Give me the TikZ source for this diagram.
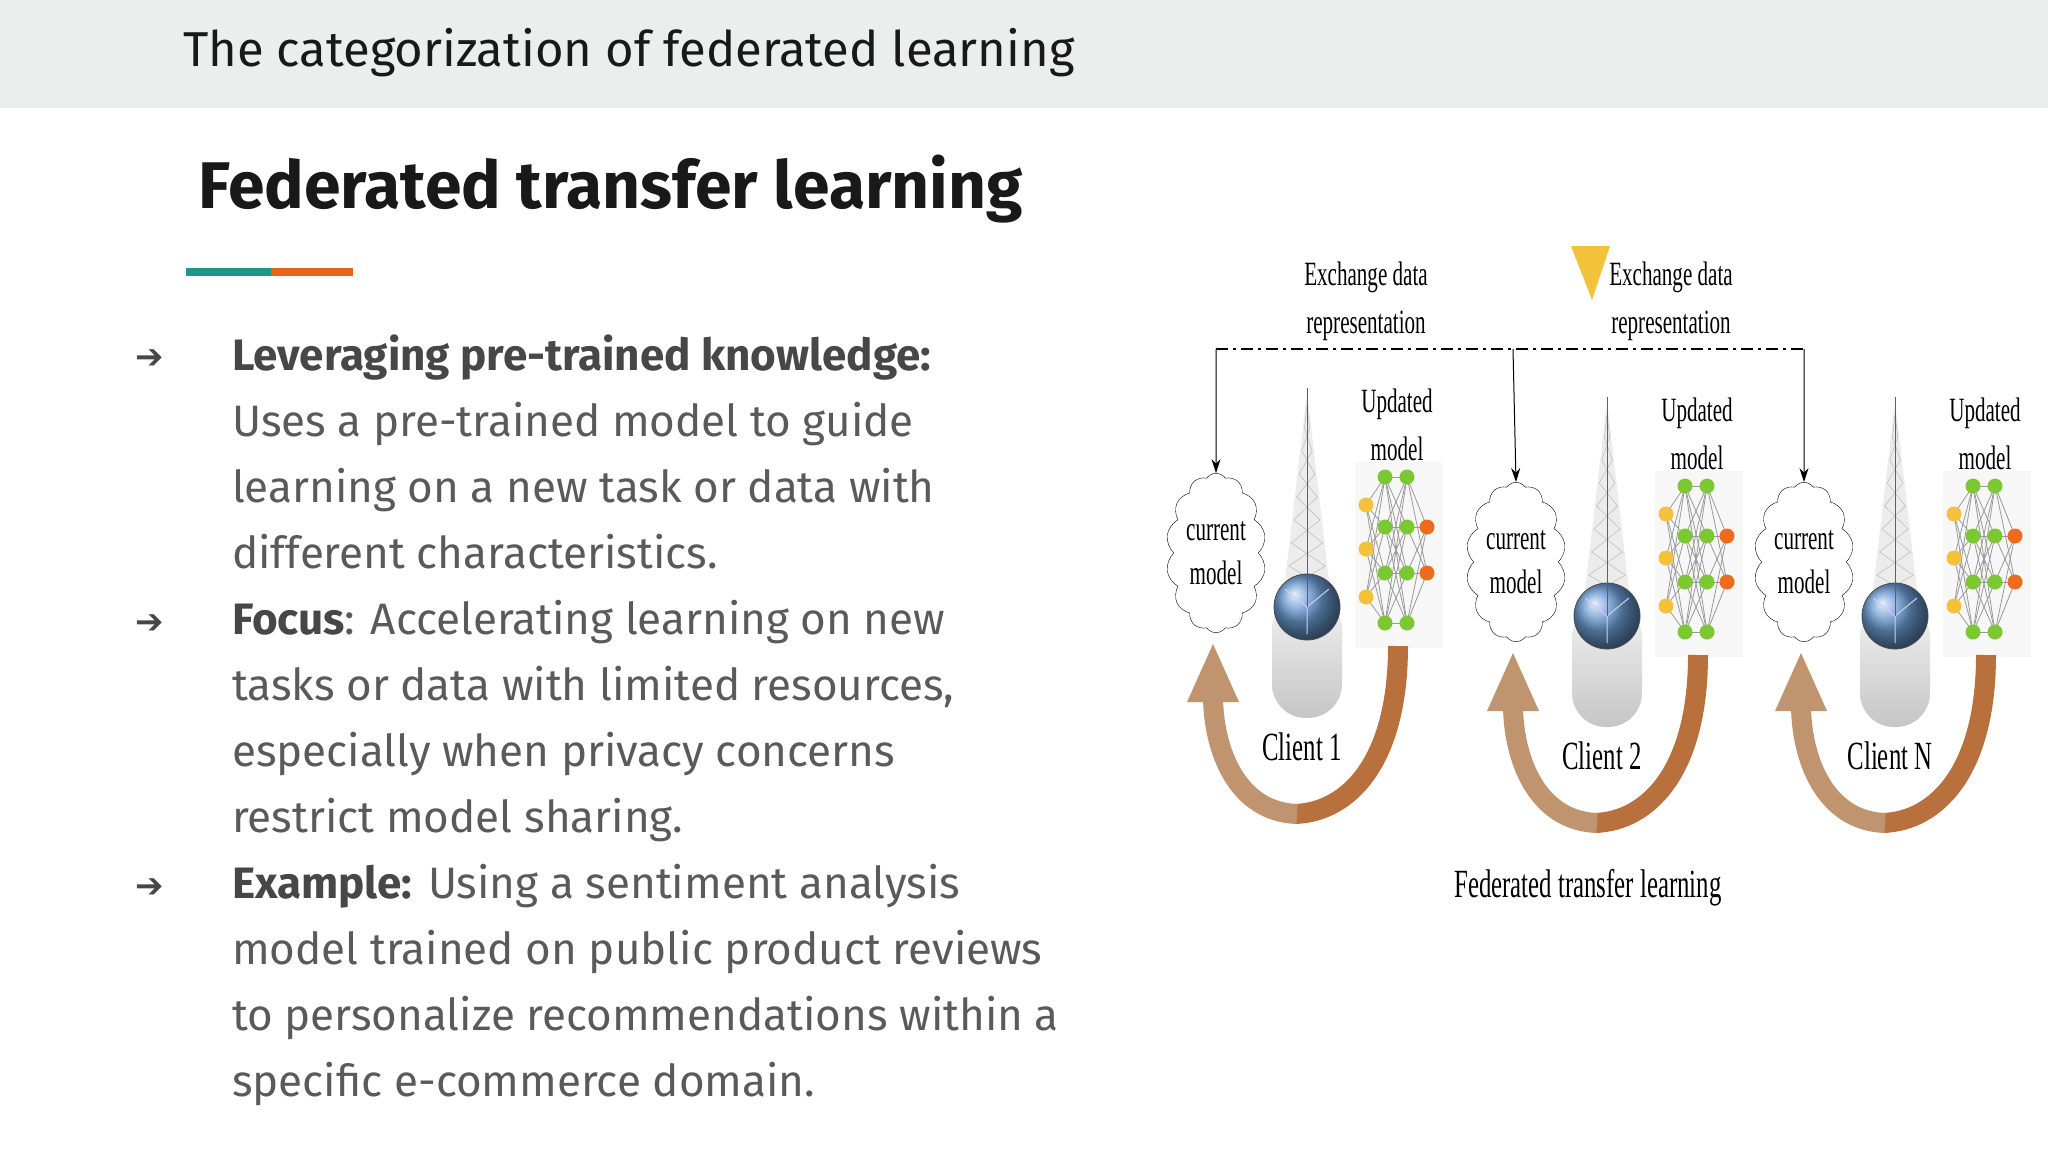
\documentclass[tikz,border=0pt]{standalone}
\usepackage{fontspec}
\setmainfont{Fira Sans}
\newfontfamily\dejavu{DejaVu Sans}
\newfontfamily\diag{Liberation Serif}
\usetikzlibrary{shapes.symbols,arrows.meta}
\definecolor{band}{HTML}{ECEEEE}
\definecolor{txt}{HTML}{5A5A5A}
\definecolor{btxt}{HTML}{474747}
\definecolor{teal}{HTML}{1A9988}
\definecolor{orng}{HTML}{E8641B}
\definecolor{brownA}{HTML}{B8703C}
\definecolor{brownB}{HTML}{C0946E}
\definecolor{nnyel}{HTML}{F2C23A}
\definecolor{nngrn}{HTML}{7CC832}
\definecolor{nnorg}{HTML}{EE6A1E}
\definecolor{ballblue}{HTML}{6A9AD0}
\tikzset{
  line/.style={anchor=base west,font=\fontsize{44}{50}\selectfont,text=txt,inner sep=0},
  bul/.style={anchor=base west,font=\dejavu\fontsize{34}{40}\selectfont,text=btxt,inner sep=0},
  dlab/.style={font=\diag\fontsize{34}{36}\selectfont,inner sep=0,align=center},
  nn/.style={circle,inner sep=0,minimum size=15},
  nnedge/.style={gray!80,line width=0.8},
}
\newcommand{\sq}[1]{\scalebox{0.62}[1]{#1}}
\newcommand{\clientunit}[4]{%
\begin{scope}[shift={(#1,#2)}]
 \fill[gray!15] (1307,392) -- (1284,590) -- (1330,590) -- cycle;
 \foreach \k in {0,...,7}{\draw[gray!50,line width=0.6] (1307-\k*2.6,405+\k*23) -- (1307+\k*2.6+2.6,428+\k*23) (1307+\k*2.6,405+\k*23) -- (1307-\k*2.6-2.6,428+\k*23);}
 \shade[top color=gray!10,bottom color=gray!45,rounded corners=34] (1272,595) rectangle (1342,718);
 \shade[ball color=ballblue] (1307,607) circle (33);
 \draw[black!70,line width=0.8] (1307,607) circle (33);
 \draw[white!80!blue,line width=1] (1307,607) -- (1307,634) (1307,607) -- (1285,589) (1307,607) -- (1329,589);
 \draw[blue!70,line width=1] (1307,388) -- (1307,607);
 \node[cloud,draw,cloud puffs=14,cloud puff arc=110,aspect=0.55,minimum width=88,minimum height=143,inner sep=0,dlab] (cur#3) at (1216,553) {\sq{current}\\[8pt]\sq{model}};
 \node[dlab] (upd#3) at (1397,425) {\sq{Updated}\\[12pt]\sq{model}};
 \node[dlab,font=\diag\fontsize{40}{44}\selectfont] (cl#3) at (1302,747) {\sq{#4}};
 \fill[gray!6] (1355,462) rectangle (1443,648);
 \foreach \a in {1,2,3}{\foreach \b in {1,2,3,4}{\draw[nnedge] (y#3\a) -- (g#3\b);}}
 \foreach \a in {1,2,3,4}{\foreach \b in {1,2,3,4}{\draw[nnedge] (g#3\a) -- (h#3\b);}}
 \foreach \a in {1,2,3,4}{\foreach \b in {1,2}{\draw[nnedge] (h#3\a) -- (o#3\b);}}
 \foreach \a in {1,2,3}{\node[nn,fill=nnyel] at (y#3\a) {};}
 \foreach \a in {1,2,3,4}{\node[nn,fill=nngrn] at (g#3\a) {};\node[nn,fill=nngrn] at (h#3\a) {};}
 \foreach \a in {1,2}{\node[nn,fill=nnorg] at (o#3\a) {};}
 \draw[brownA,line width=20] (1398,646) .. controls (1398,760) and (1350,812) .. (1295,814);
 \draw[brownB,line width=20] (1297,814) .. controls (1237,812) and (1213,750) .. (1213,695);
 \fill[brownB] (1187,702) -- (1213,644) -- (1239,702) -- cycle;
\end{scope}}
\begin{document}
\begin{tikzpicture}[x=1pt,y=-1pt]
\useasboundingbox (0,0) rectangle (2048,1152);
\fill[white] (0,0) rectangle (2048,1152);
\fill[band] (0,0) rectangle (2048,108);
\node[anchor=base west,inner sep=0,font=\fontsize{49}{52}\selectfont,text=black!90] (title) at (183,66) {The categorization of federated learning};
\node[anchor=base west,inner sep=0,font=\bfseries\fontsize{66}{70}\selectfont,text=black!90] (head) at (198,208) {Federated transfer learning};
\fill[teal] (186,268) rectangle (271,276);
\fill[orng] (271,268) rectangle (353,276);
\node[bul] (b1) at (135,368) {➔};
\node[bul] (b2) at (135,633) {➔};
\node[bul] (b3) at (135,897) {➔};
\node[line] (l1) at (232,370) {\textbf{\color{btxt}Leveraging pre-trained knowledge:}};
\node[line] (l2) at (232,436) {Uses a pre-trained model to guide};
\node[line] (l3) at (232,502) {learning on a new task or data with};
\node[line] (l4) at (232,568) {different characteristics.};
\node[line] (l5) at (232,634) {\textbf{\color{btxt}Focus}: Accelerating learning on new};
\node[line] (l6) at (232,700) {tasks or data with limited resources,};
\node[line] (l7) at (232,766) {especially when privacy concerns};
\node[line] (l8) at (232,832) {restrict model sharing.};
\node[line] (l9) at (232,898) {\textbf{\color{btxt}Example:} Using a sentiment analysis};
\node[line] (l10) at (232,964) {model trained on public product reviews};
\node[line] (l11) at (232,1030) {to personalize recommendations within a};
\node[line] (l12) at (232,1096) {specific e-commerce domain.};
\foreach \i/\dx/\dy in {1/0/0,2/300/9,3/588/9}{
 \foreach \a/\yy in {1/505,2/549,3/597}{\coordinate (y\i\a) at (1366+\dx,\yy+\dy);}
 \foreach \a/\yy in {1/477,2/527,3/573,4/623}{\coordinate (g\i\a) at (1385+\dx,\yy+\dy);\coordinate (h\i\a) at (1407+\dx,\yy+\dy);}
 \foreach \a/\yy in {1/527,2/573}{\coordinate (o\i\a) at (1427+\dx,\yy+\dy);}
}
\clientunit{0}{0}{1}{Client 1}
\clientunit{300}{9}{2}{Client 2}
\clientunit{588}{9}{3}{Client N}
\node[dlab] (ex1) at (1366,301) {\sq{Exchange data}\\[12pt]\sq{representation}};
\node[dlab] (ex2) at (1671,301) {\sq{Exchange data}\\[12pt]\sq{representation}};
\fill[nnyel] (1571,246) -- (1610,246) -- (1592,300) -- cycle;
\coordinate (dl) at (1216,349);
\coordinate (dm) at (1513,349);
\coordinate (dr) at (1804,349);
\draw[line width=2.5,dash pattern=on 12pt off 5pt on 3pt off 5pt] (dl) -- (dr);
\draw[-{Stealth[length=14,width=9]},line width=1] (dl) -- (cur1.north);
\draw[-{Stealth[length=14,width=9]},line width=1] (dm) -- (cur2.north);
\draw[-{Stealth[length=14,width=9]},line width=1] (dr) -- (cur3.north);
\node[dlab,font=\diag\fontsize{40}{44}\selectfont] (cap) at (1588,888) {\sq{Federated transfer learning}};
\end{tikzpicture}
\end{document}
